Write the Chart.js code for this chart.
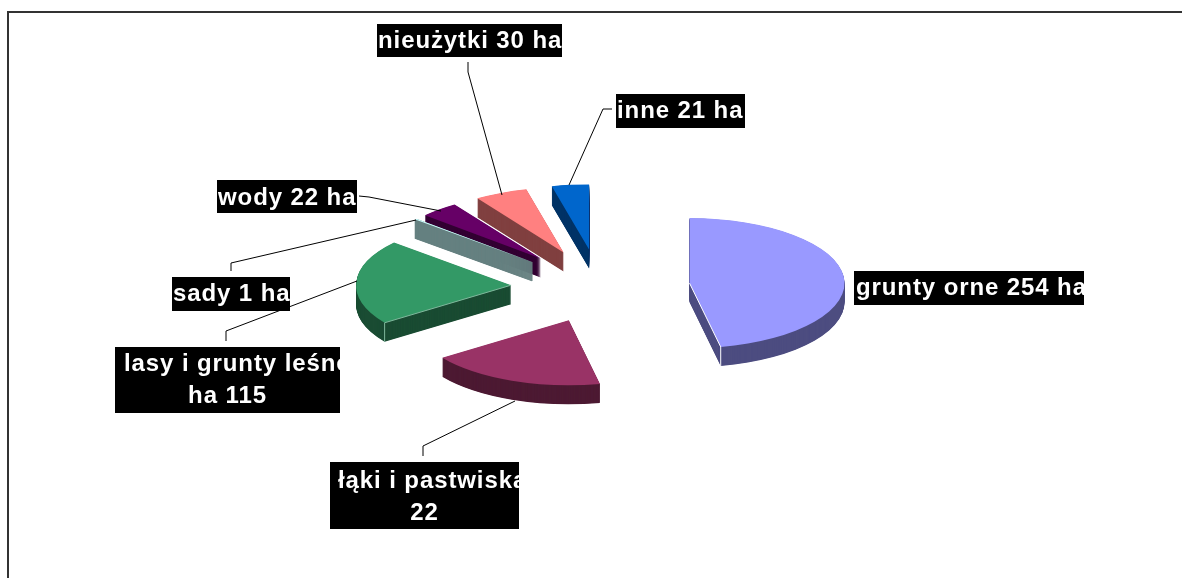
<!DOCTYPE html>
<html>
<head>
<meta charset="utf-8">
<title>Grunty</title>
<script src="https://cdn.jsdelivr.net/npm/chart.js@4"></script>
<style>
  html, body { margin: 0; padding: 0; background: #fff; }
  canvas { display: block; }
</style>
</head>
<body>
<canvas id="myChart" width="1182" height="578"></canvas>
<script>
// Values (the meadow slice is sized from its angle, the label is cut off)
const categories = ["grunty orne", "łąki i pastwiska", "lasy i grunty leśne", "sady", "wody", "nieużytki", "inne"];
const hectares = [254, 100, 115, 1, 22, 30, 21];
const topColors = ["#9999FF", "#993366", "#339966", "#CCFFFF", "#660066", "#FF8080", "#0066CC"];
const sideColors = ["#4D4D80", "#4D1A33", "#1A4C33", "#668080", "#330033", "#804040", "#003366"];

// Label layout: text lines, box [x, y, w, h], first line start x and baseline
const labelLines = [
  ["grunty orne 254 ha"],
  ["łąki i pastwiska", "22"],
  ["lasy i grunty leśne", "ha 115"],
  ["sady 1 ha"],
  ["wody 22 ha"],
  ["nieużytki 30 ha"],
  ["inne 21 ha"]
];
const labelBoxes = [
  [854, 271, 230, 34],
  [330, 462, 189, 67],
  [115, 347, 225, 66],
  [172, 277, 118, 34],
  [217, 180, 140, 33],
  [377, 24, 185, 33],
  [616, 94, 129, 34]
];
const labelStarts = [856, 338, 124, 173, 218, 378, 617];
const labelBaselines = [295, 488, 371, 301, 205, 48, 118];
const leaderLines = [
  null,
  [[423, 456], [423, 446], [515, 401]],
  [[226, 341], [226, 331], [357, 281]],
  [[231, 271], [231, 263], [416, 220]],
  [[359, 196], [369, 197], [441, 211]],
  [[468, 62], [468, 72], [502, 195]],
  [[612, 109], [603, 109], [569, 185]]
];

const squash = 0.42;
const explodes = [90, 85, 89, 90, 90, 90, 90];
const depth = 19;

// Tilted, exploded pie: draws the library's own arcs under a squashed transform
const tiltedPie = {
  id: "tiltedPie",
  beforeDatasetDraw(chart, args) {
    const ctx = chart.ctx;
    const arcs = args.meta.data;
    const order = [6, 5, 4, 3, 2, 1, 0];

    order.forEach((i) => {
      const arc = arcs[i];
      const mid = (arc.startAngle + arc.endAngle) / 2;
      const paint = (color, drop, border) => {
        ctx.save();
        ctx.translate(arc.x, arc.y + drop);
        ctx.scale(1, squash);
        ctx.translate(-arc.x, -arc.y);
        ctx.translate(Math.cos(mid) * explodes[i], Math.sin(mid) * explodes[i]);
        arc.options.backgroundColor = color;
        arc.options.borderColor = color;
        arc.options.borderWidth = border;
        arc.draw(ctx);
        ctx.restore();
      };
      // the sady sliver is too thin to fill solid without a border
      for (let d = depth; d > 0; d -= 0.5) {
        paint(sideColors[i], d, i === 3 ? 1.5 : 0);
      }
      paint(topColors[i], 0, 0);

      // light seam on the front edge of the two big slices
      if (i === 0 || i === 2) {
        const a = i === 0 ? arc.endAngle : arc.startAngle;
        const ax = arc.x + Math.cos(mid) * explodes[i];
        const ay = arc.y + Math.sin(mid) * explodes[i] * squash;
        const rx = ax + Math.cos(a) * arc.outerRadius;
        const ry = ay + Math.sin(a) * arc.outerRadius * squash;
        ctx.save();
        ctx.strokeStyle = i === 0 ? "#fff" : "#7fb89c";
        ctx.lineWidth = 1;
        ctx.beginPath();
        ctx.moveTo(ax, ay);
        ctx.lineTo(rx, ry);
        ctx.lineTo(rx, ry + depth);
        ctx.stroke();
        ctx.restore();
      }
    });
    return false;
  },
  afterDraw(chart) {
    const ctx = chart.ctx;

    // frame
    ctx.save();
    ctx.strokeStyle = "#333";
    ctx.lineWidth = 2;
    ctx.beginPath();
    ctx.moveTo(8, 578);
    ctx.lineTo(8, 12);
    ctx.lineTo(1182, 12);
    ctx.stroke();

    // leaders
    ctx.strokeStyle = "#000";
    ctx.lineWidth = 1;
    leaderLines.forEach((line) => {
      if (!line) return;
      ctx.beginPath();
      line.forEach((p, n) => (n ? ctx.lineTo(p[0], p[1]) : ctx.moveTo(p[0], p[1])));
      ctx.stroke();
    });

    // labels
    ctx.font = "bold 24px 'Liberation Sans', Arial, sans-serif";
    ctx.letterSpacing = "0.9px";
    ctx.textBaseline = "alphabetic";
    ctx.textAlign = "left";
    labelLines.forEach((lines, i) => {
      const [x, y, w, h] = labelBoxes[i];
      ctx.save();
      ctx.fillStyle = "#000";
      ctx.fillRect(x, y, w, h);
      ctx.beginPath();
      ctx.rect(x, y, w, h);
      ctx.clip();
      ctx.fillStyle = "#fff";
      ctx.fillText(lines[0], labelStarts[i], labelBaselines[i]);
      if (lines[1]) {
        const width = ctx.measureText(lines[1]).width;
        ctx.fillText(lines[1], x + (w - width) / 2, labelBaselines[i] + 32);
      }
      ctx.restore();
    });
    ctx.restore();
  }
};

const ctx = document.getElementById("myChart").getContext("2d");
const myChart = new Chart(ctx, {
  type: "pie",
  data: {
    labels: categories,
    datasets: [{
      data: hectares,
      backgroundColor: topColors,
      borderWidth: 0,
      radius: 155,
      clip: false
    }]
  },
  options: {
    responsive: false,
    animation: false,
    events: [],
    layout: { padding: { left: 18, bottom: 4 } },
    plugins: {
      legend: { display: false },
      tooltip: { enabled: false }
    }
  },
  plugins: [tiltedPie]
});
</script>
</body>
</html>
